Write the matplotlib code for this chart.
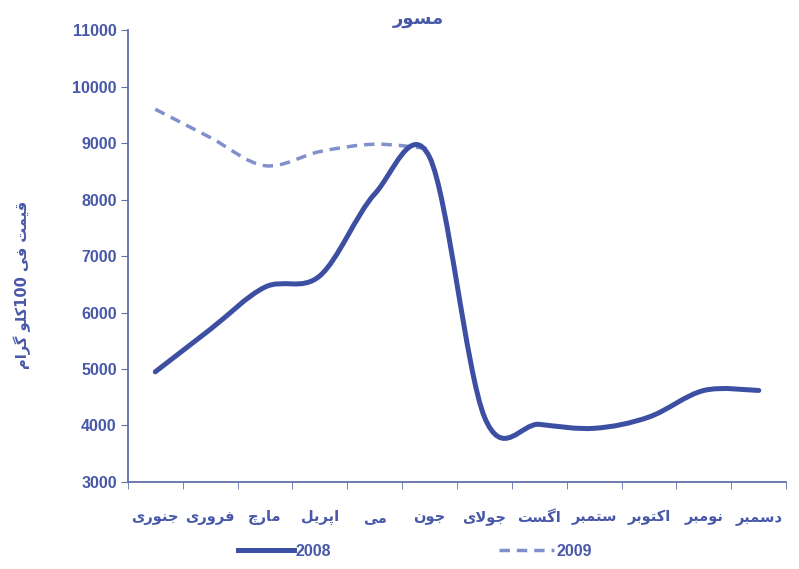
import re
import numpy as np
import matplotlib
matplotlib.use("Agg")
import matplotlib.pyplot as plt
from matplotlib.path import Path
from matplotlib.patches import PathPatch
from matplotlib.lines import Line2D

# data (price per 100 kg)
months = ["جنوری", "فروری", "مارچ", "اپریل", "می", "جون",
          "جولای", "اگست", "ستمبر", "اکتوبر", "نومبر", "دسمبر"]
price_2008 = [4950, 5700, 6450, 6650, 8100, 8750, 4150, 4020, 3950, 4150, 4620, 4620]
price_2009 = [9600, 9100, 8600, 8850, 8980, 8900]
title = "مسور"
ylabel = "قیمت فی 100کلو گرام"

# minimal arabic shaping: isolated, final, initial, medial
FORMS = {
    'ا': ('\uFE8D', '\uFE8E', None, None),
    'ب': ('\uFE8F', '\uFE90', '\uFE91', '\uFE92'),
    'پ': ('\uFB56', '\uFB57', '\uFB58', '\uFB59'),
    'ت': ('\uFE95', '\uFE96', '\uFE97', '\uFE98'),
    'ج': ('\uFE9D', '\uFE9E', '\uFE9F', '\uFEA0'),
    'چ': ('\uFB7A', '\uFB7B', '\uFB7C', '\uFB7D'),
    'د': ('\uFEA9', '\uFEAA', None, None),
    'ر': ('\uFEAD', '\uFEAE', None, None),
    'س': ('\uFEB1', '\uFEB2', '\uFEB3', '\uFEB4'),
    'ف': ('\uFED1', '\uFED2', '\uFED3', '\uFED4'),
    'ق': ('\uFED5', '\uFED6', '\uFED7', '\uFED8'),
    'ک': ('\uFB8E', '\uFB8F', '\uFB90', '\uFB91'),
    'گ': ('\uFB92', '\uFB93', '\uFB94', '\uFB95'),
    'ل': ('\uFEDD', '\uFEDE', '\uFEDF', '\uFEE0'),
    'م': ('\uFEE1', '\uFEE2', '\uFEE3', '\uFEE4'),
    'ن': ('\uFEE5', '\uFEE6', '\uFEE7', '\uFEE8'),
    'و': ('\uFEED', '\uFEEE', None, None),
    'ی': ('\uFBFC', '\uFBFD', '\uFBFE', '\uFBFF'),
}


def joins_next(c):
    return c in FORMS and FORMS[c][2] is not None


def shape(text):
    res = []
    i = 0
    while i < len(text):
        c = text[i]
        if c not in FORMS:
            res.append(c)
            i += 1
            continue
        prev = text[i - 1] if i > 0 else ''
        nxt = text[i + 1] if i + 1 < len(text) else ''
        jp = joins_next(prev)
        if c == 'ل' and nxt == 'ا':
            res.append('\uFEFC' if jp else '\uFEFB')
            i += 2
            continue
        jn = joins_next(c) and nxt in FORMS
        iso, fin, ini, med = FORMS[c]
        if jp and jn:
            res.append(med)
        elif jp:
            res.append(fin)
        elif jn:
            res.append(ini)
        else:
            res.append(iso)
        i += 1
    s = ''.join(res)[::-1]
    return re.sub(r'\d+', lambda m: m.group()[::-1], s)


def smooth_path(x, y):
    # excel style smoothed line (catmull-rom as cubic bezier)
    pts = np.column_stack([x, y]).astype(float)
    verts = [pts[0]]
    codes = [Path.MOVETO]
    n = len(pts)
    for i in range(n - 1):
        p0 = pts[i - 1] if i > 0 else pts[i]
        p1, p2 = pts[i], pts[i + 1]
        p3 = pts[i + 2] if i + 2 < n else pts[i + 1]
        verts += [p1 + (p2 - p0) / 6, p2 - (p3 - p1) / 6, p2]
        codes += [Path.CURVE4] * 3
    return Path(verts, codes)


blue = "#3d4fa3"
light = "#8190cc"
txt = "#4858a8"
arfont = "DejaVu Sans"
numfont = "Liberation Sans"

fig = plt.figure(figsize=(7.99, 5.69), dpi=100)
ax = fig.add_axes([0.160, 0.153, 0.824, 0.794])

x08 = np.arange(len(price_2008))
x09 = np.arange(len(price_2009))
ax.add_patch(PathPatch(smooth_path(x09, price_2009), fill=False, edgecolor=light,
                       lw=2.5, linestyle=(0, (3, 2)), capstyle='butt'))
ax.add_patch(PathPatch(smooth_path(x08, price_2008), fill=False, edgecolor=blue,
                       lw=3.6, capstyle='round'))

ax.set_xlim(-0.5, len(months) - 0.5)
ax.set_ylim(3000, 11000)
ax.set_yticks(range(3000, 11001, 1000))
ax.set_xticks(x08)
ax.set_xticklabels([shape(m) for m in months], fontsize=10.5, fontweight='bold',
                   color=txt, family=arfont)
ax.set_xticks(np.arange(-0.5, len(months)), minor=True)
ax.tick_params(axis='x', which='major', length=0, pad=20)
ax.tick_params(axis='x', which='minor', length=5, color='#6070a8', direction='out')
ax.tick_params(axis='y', length=5, color='#6070a8', labelcolor=txt, labelsize=11.5, pad=3)
for lab in ax.get_yticklabels():
    lab.set_fontweight('bold')
    lab.set_family(numfont)

for side in ('top', 'right'):
    ax.spines[side].set_visible(False)
for side in ('left', 'bottom'):
    ax.spines[side].set_color('#6070a8')
    ax.spines[side].set_linewidth(1.3)

fig.text(0.523, 0.966, shape(title), ha='center', va='center', fontsize=13,
         fontweight='bold', color=txt, family=arfont)
fig.text(0.028, 0.50, shape(ylabel), ha='center', va='center', rotation=90,
         fontsize=10.5, fontweight='bold', color=txt, family=arfont)

handles = [Line2D([], [], color=blue, lw=3.6),
           Line2D([], [], color=light, lw=2.5, linestyle=(0, (3, 2)))]
leg = fig.legend(handles, ["2008", "2009"], loc='center', bbox_to_anchor=(0.519, 0.031),
                 ncol=2, frameon=False, handlelength=3.5, handletextpad=0.1,
                 columnspacing=10.5,
                 prop={'weight': 'bold', 'size': 11.5, 'family': numfont})
for t in leg.get_texts():
    t.set_color(txt)

fig.savefig("out.png", dpi=100)
